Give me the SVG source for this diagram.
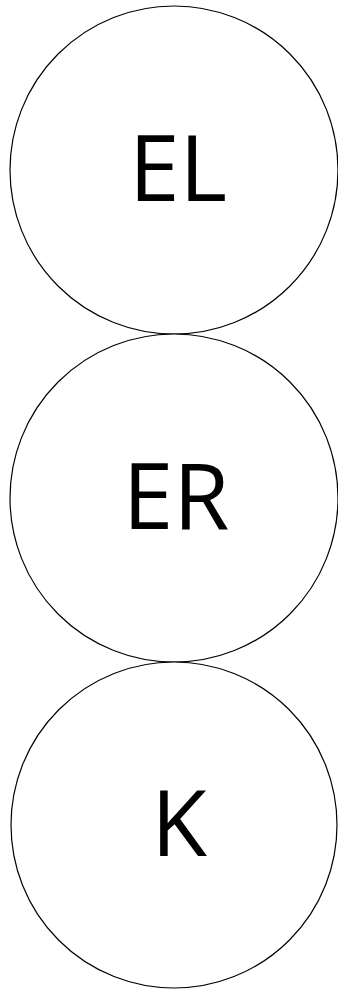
<svg xmlns="http://www.w3.org/2000/svg" width="338" height="989" viewBox="0 0 338 989">
<style>
.n{fill:#fff;stroke:#000;stroke-width:1.2}
.t{font-family:"Open Sans","Noto Sans",sans-serif;font-size:91px;font-weight:500;fill:#000;text-anchor:middle}
</style>
<rect width="338" height="989" fill="#fff"/>
<g id="connectors"></g>
<g id="EL"><circle class="n" cx="174" cy="170" r="164"/><text class="t" x="178" y="201">EL</text></g>
<g id="ER"><circle class="n" cx="174" cy="498" r="164"/><text class="t" x="176" y="529">ER</text></g>
<g id="K"><circle class="n" cx="174" cy="825" r="163"/><text class="t" x="179" y="856">K</text></g>
</svg>
